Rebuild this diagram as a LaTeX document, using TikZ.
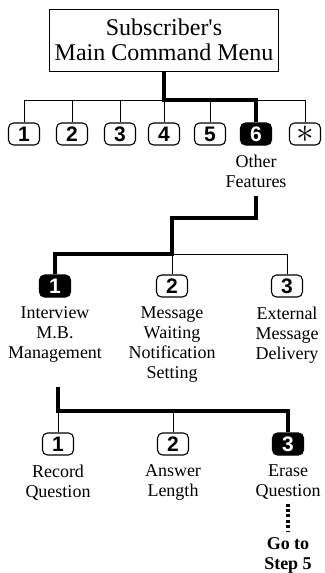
\documentclass[tikz,border=0pt]{standalone}
\usepackage{fontspec}
\setmainfont{Liberation Serif}
\newfontfamily\keyfont{Liberation Sans}
\usetikzlibrary{positioning}

\begin{document}
\begin{tikzpicture}[
        x=1pt, y=-1pt,
        key/.style={
            draw=black,
            rounded corners=5pt,
            line width=1.1pt,
            minimum width=31pt,
            minimum height=22pt,
            inner sep=0pt,
            font=\keyfont\bfseries\fontsize{21}{21}\selectfont
        },
        chosen/.style={key, fill=black, text=white},
        caption/.style={
            align=center,
            inner sep=0pt,
            font=\fontsize{18}{20}\selectfont
        },
        goto/.style={caption, font=\bfseries\fontsize{18}{19.5}\selectfont},
        thinline/.style={line width=0.9pt},
        boldline/.style={line width=4.2pt},
        dotline/.style={line width=3.2pt, dash pattern=on 3pt off 2.4pt}
    ]
    \useasboundingbox (0,0) rectangle (324,573);

    % Main menu
    \node[draw, line width=1pt, minimum width=229pt, minimum height=62pt,
          align=center, font=\fontsize{24}{25}\selectfont]
          (menu) at (164,40) {Subscriber\textquotesingle s\\Main Command Menu};

    % First row of keys
    \node[key]    (k1) at (24,134)  {1};
    \node[key]    (k2) at (72,134)  {2};
    \node[key]    (k3) at (120,134) {3};
    \node[key]    (k4) at (164,134) {4};
    \node[key]    (k5) at (210,134) {5};
    \node[chosen] (k6) at (256,134) {6};
    \node[key]    (ks) at (305,134) {\fontsize{20}{20}\selectfont\scalebox{1.7}{$\ast$}};
    \node[caption, below=9pt of k6] (other) {Other\\Features};

    \coordinate (j1) at (164,100);
    \draw[thinline] (k1.north |- j1) -- (ks.north |- j1);
    \foreach \k in {k1,k2,k3,k4,k5,ks}
        \draw[thinline] (\k.north) -- (\k.north |- j1);
    \draw[boldline] (menu.south) -- (j1) -| (k6.north);

    % Second row of keys
    \node[chosen] (m1) at (55,286)  {1};
    \node[key]    (m2) at (172,286) {2};
    \node[key]    (m3) at (287,286) {3};
    \node[caption, below=9pt of m1] (interview) {Interview\\M.B.\\Management};
    \node[caption, below=9pt of m2] (waiting) {Message\\Waiting\\Notification\\Setting};
    \node[caption, below=9pt of m3] (external) {External\\Message\\Delivery};

    \coordinate (s1) at (256,196);
    \coordinate (b2) at (172,218);
    \coordinate (j2) at (172,254);
    \draw[boldline] (s1) |- (b2) -- (j2) -| (m1.north);
    \draw[thinline] (j2) -| (m3.north);
    \draw[thinline] (j2) -- (m2.north);

    % Third row of keys
    \node[key]    (r1) at (58,444)  {1};
    \node[key]    (r2) at (173,444) {2};
    \node[chosen] (r3) at (288,444) {3};
    \node[caption, below=9pt of r1] (record) {Record\\Question};
    \node[caption, below=9pt of r2] (answer) {Answer\\Length};
    \node[caption, below=9pt of r3] (erase) {Erase\\Question};

    \coordinate (s2) at (58,387);
    \coordinate (j3) at (58,411);
    \draw[boldline] (s2) -- (j3) -| (r3.north);
    \draw[thinline] (j3) -- (r1.north);
    \draw[thinline] (r2.north) -- (r2.north |- j3);

    % Go to step 5
    \node[goto, below=38pt of erase] (step) {Go to\\Step 5};
    \draw[dotline] ([yshift=-4pt]erase.south) -- ([yshift=6pt]step.north);

\end{tikzpicture}
\end{document}
